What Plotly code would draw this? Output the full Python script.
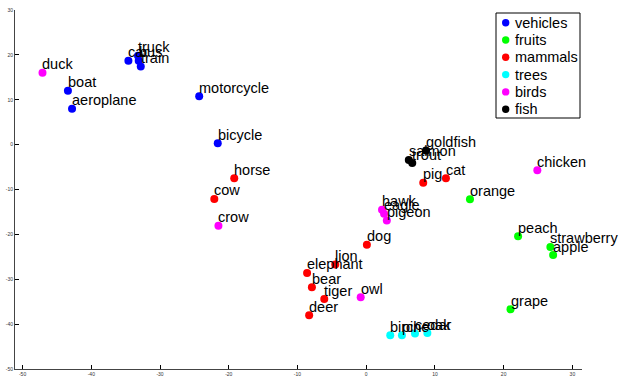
import plotly.graph_objects as go

# ---- data ----
categories = ["vehicles", "fruits", "mammals", "trees", "birds", "fish"]
category_colors = ["#0000ff", "#00ff00", "#ff0000", "#00ffff", "#ff00ff", "#000000"]

vehicles_words = ["truck", "car", "bus", "train", "boat", "aeroplane", "motorcycle", "bicycle"]
vehicles_x = [-33.2, -34.6, -33.1, -32.8, -43.4, -42.8, -24.3, -21.6]
vehicles_y = [19.8, 18.7, 18.7, 17.4, 12.0, 8.0, 10.8, 0.3]

fruits_words = ["orange", "peach", "strawberry", "apple", "grape"]
fruits_x = [15.1, 22.1, 26.8, 27.2, 21.0]
fruits_y = [-12.2, -20.4, -22.8, -24.6, -36.7]

mammals_words = ["horse", "cow", "pig", "cat", "dog", "lion", "elephant", "bear", "tiger", "deer"]
mammals_x = [-19.2, -22.1, 8.3, 11.6, 0.1, -4.5, -8.6, -7.9, -6.1, -8.3]
mammals_y = [-7.5, -12.1, -8.5, -7.5, -22.3, -26.7, -28.6, -31.8, -34.4, -38.0]

trees_words = ["birch", "pine", "cedar", "oak"]
trees_x = [3.5, 5.2, 7.1, 8.9]
trees_y = [-42.5, -42.5, -42.1, -42.0]

birds_words = ["duck", "crow", "hawk", "eagle", "pigeon", "owl", "chicken"]
birds_x = [-47.1, -21.5, 2.3, 2.6, 3.0, -0.8, 24.9]
birds_y = [16.0, -18.1, -14.5, -15.4, -16.9, -34.0, -5.7]

fish_words = ["goldfish", "salmon", "trout"]
fish_x = [8.7, 6.2, 6.7]
fish_y = [-1.3, -3.4, -4.1]

x_ticks = [-50, -40, -30, -20, -10, 0, 10, 20, 30]
y_ticks = [-50, -40, -30, -20, -10, 0, 10, 20, 30]

groups = [
    (vehicles_words, vehicles_x, vehicles_y),
    (fruits_words, fruits_x, fruits_y),
    (mammals_words, mammals_x, mammals_y),
    (trees_words, trees_x, trees_y),
    (birds_words, birds_x, birds_y),
    (fish_words, fish_x, fish_y),
]

FONT = "Liberation Sans, Arial, Helvetica, sans-serif"

fig = go.Figure()
annotations = []
for name, color, (words, xs, ys) in zip(categories, category_colors, groups):
    fig.add_trace(go.Scatter(
        x=xs, y=ys, mode="markers", name=name,
        marker=dict(color=color, size=8, line=dict(width=0)),
        showlegend=False, text=words,
    ))
    for w, xv, yv in zip(words, xs, ys):
        annotations.append(dict(
            x=xv, y=yv, xref="x", yref="y", text=w, showarrow=False,
            xanchor="left", yanchor="bottom", xshift=-2, yshift=-1.5,
            font=dict(family=FONT, size=14.5, color="black"),
        ))

# ---- manual legend (box + circle markers + labels), placed in paper coords ----
ML, MR, MT, MB = 15, 40, 10, 7
W, H = 622, 376
PW, PH = W - ML - MR, H - MT - MB

def px_to_paper_x(px):
    return (px - ML) / PW

def px_to_paper_y(py):
    return (H - MB - py) / PH

shapes = [dict(
    type="rect", xref="paper", yref="paper",
    x0=px_to_paper_x(496), x1=px_to_paper_x(580),
    y0=px_to_paper_y(118), y1=px_to_paper_y(13),
    line=dict(color="black", width=1), fillcolor="white", layer="above",
)]
for i, (name, color) in enumerate(zip(categories, category_colors)):
    cy = 22.7 + i * 17.3
    shapes.append(dict(
        type="circle", xref="paper", yref="paper",
        xsizemode="pixel", ysizemode="pixel",
        xanchor=px_to_paper_x(505.7), yanchor=px_to_paper_y(cy),
        x0=-3.7, x1=3.7, y0=-3.7, y1=3.7,
        fillcolor=color, line=dict(width=0), layer="above",
    ))
    annotations.append(dict(
        x=px_to_paper_x(513), y=px_to_paper_y(cy), xref="paper", yref="paper",
        text=name, showarrow=False, xanchor="left", yanchor="middle",
        font=dict(family=FONT, size=14.5, color="black"),
    ))

axis_common = dict(
    showgrid=False, zeroline=False, showline=True, linecolor="#444444", linewidth=1,
    ticks="inside", ticklen=4, tickcolor="black", tickwidth=1,
    tickfont=dict(family=FONT, size=5, color="#333333"),
    mirror=False, automargin=False,
)

fig.update_layout(
    width=W, height=H,
    margin=dict(l=ML, r=MR, t=MT, b=MB, pad=0),
    paper_bgcolor="white", plot_bgcolor="white",
    showlegend=False,
    xaxis=dict(range=[-51.1, 31.4], tickvals=x_ticks, ticktext=[str(v) for v in x_ticks], **axis_common),
    yaxis=dict(range=[-50, 30], tickvals=y_ticks, ticktext=[str(v) for v in y_ticks], **axis_common),
    annotations=annotations,
    shapes=shapes,
    font=dict(family=FONT),
)

fig.write_html(
    "out.html",
    config={"displayModeBar": False},
    post_script="document.body.style.margin='0';document.body.style.padding='0';document.body.style.overflow='hidden';",
)
